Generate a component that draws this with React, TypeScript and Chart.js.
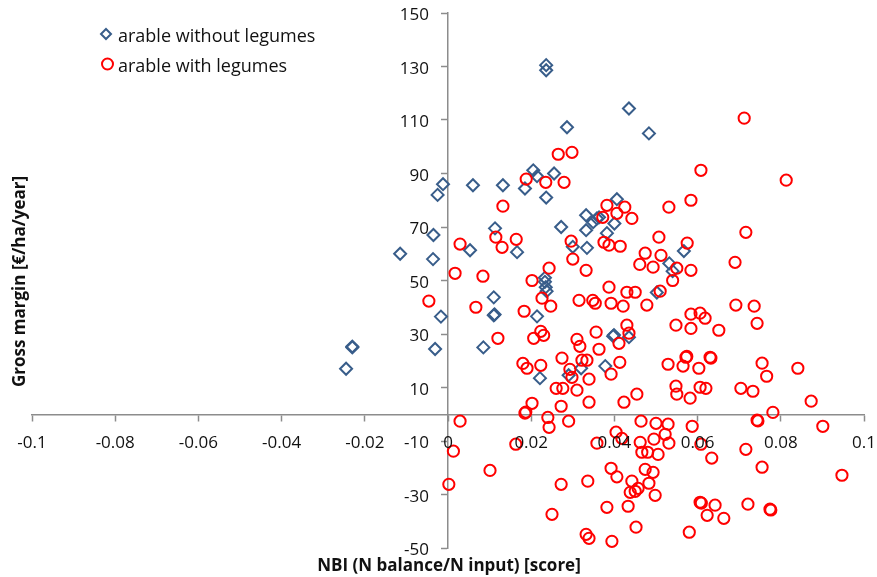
import React, { useEffect, useRef } from 'react';
import { Chart, registerables } from 'chart.js';

Chart.register(...registerables);

const xTickLabels = ['-0.1', '-0.08', '-0.06', '-0.04', '-0.02', '0', '0.02', '0.04', '0.06', '0.08', '0.1'];
const yTickLabels = ['-50', '-30', '-10', '10', '30', '50', '70', '90', '110', '130', '150'];
const seriesNames = ['arable without legumes', 'arable with legumes'];
const xTitle = 'NBI (N balance/N input) [score]';
const yTitle = 'Gross margin [€/ha/year]';

// [NBI score, gross margin]
const withoutLegumes: [number, number][] = [
  [-0.0245, 17], [-0.023, 25], [-0.023, 25.3], [-0.0115, 60], [-0.0036, 58], [-0.0035, 67],
  [-0.0025, 82], [-0.0012, 86], [-0.0017, 36.5], [-0.0031, 24.4], [0.006, 85.6], [0.0132, 85.6],
  [0.0185, 84.4], [0.0205, 91.2], [0.0214, 89], [0.0255, 90], [0.0236, 81], [0.0236, 130.5],
  [0.0236, 128.6], [0.0435, 114.3], [0.0483, 105], [0.0286, 107.3], [0.0272, 70], [0.0113, 69.5],
  [0.0053, 61.3], [0.0166, 60.6], [0.0332, 74.4], [0.0349, 71.8], [0.0358, 73.2], [0.0363, 73.6],
  [0.0332, 68.8], [0.0334, 62.2], [0.030, 62.6], [0.0406, 80.4], [0.040, 71.3], [0.0382, 67.7],
  [0.0567, 61], [0.0532, 56.4], [0.054, 53.5], [0.0502, 45.5], [0.0233, 51], [0.0233, 49.5],
  [0.0235, 47.5], [0.0237, 46], [0.011, 43.7], [0.011, 37], [0.0112, 37.3], [0.0085, 25],
  [0.0214, 36.6], [0.0221, 13.5], [0.029, 14.6], [0.032, 17.2], [0.0378, 18], [0.0397, 29.2],
  [0.0399, 29.6], [0.0435, 28.8],
];

const withLegumes: [number, number][] = [
  // upper part
  [0.0712, 110.7], [0.0265, 97.2], [0.0298, 97.9], [0.0608, 91.2], [0.0813, 87.5], [0.0188, 87.9],
  [0.0235, 86.7], [0.0279, 86.7], [0.0132, 77.8], [0.0382, 78.1], [0.0425, 77.4], [0.0372, 73.6],
  [0.0406, 75.1], [0.0442, 73.2], [0.0531, 77.4], [0.0584, 80], [0.0716, 68], [0.0507, 66.2],
  [0.0575, 64], [0.0029, 63.6], [0.0115, 66.2], [0.013, 62.4], [0.0164, 65.4], [0.0296, 64.7],
  [0.030, 58], [0.0332, 53.8], [0.0243, 54.6], [0.0375, 64.3], [0.0387, 63.2], [0.0414, 62.8],
  [0.0474, 60.2], [0.0512, 59.4], [0.0461, 56], [0.0493, 55], [0.055, 54.6], [0.0584, 53.8],
  [0.054, 50], [0.069, 56.8], [0.0017, 52.7], [0.0084, 51.6], [0.0202, 50], [0.0387, 47.5],
  [0.043, 45.6], [0.045, 45.6], [0.051, 46],
  // middle part
  [-0.0046, 42.3], [0.0067, 40], [0.012, 28.4], [0.0183, 38.5], [0.0226, 43.4], [0.0247, 40.4],
  [0.0223, 31], [0.023, 29.5], [0.0206, 28.4], [0.018, 19], [0.019, 17.2], [0.0223, 18.3],
  [0.0202, 4.1], [0.0185, 0.4], [0.0187, 0.8], [0.0274, 21], [0.0293, 16.8], [0.0298, 13.8],
  [0.031, 28], [0.0317, 25.4], [0.0322, 20.2], [0.0334, 20.2], [0.0339, 13.1], [0.0356, 30.7],
  [0.0363, 24.3], [0.0392, 15], [0.0413, 19.4], [0.0411, 26.5], [0.043, 33.3], [0.0435, 30.3],
  [0.0315, 42.6], [0.0348, 42.6], [0.0354, 41.5], [0.0392, 41.5], [0.0421, 40.4], [0.0478, 40.8],
  [0.026, 9.7], [0.0276, 9.7], [0.031, 9], [0.0272, 3], [0.0339, 4.5], [0.0423, 4.5],
  [0.0454, 7.5], [0.0548, 33.3], [0.0584, 37.4], [0.0606, 37.8], [0.0618, 35.9], [0.0584, 32.1],
  [0.0651, 31.4], [0.0692, 40.8], [0.0736, 40.4], [0.0743, 34], [0.0529, 18.7], [0.0572, 21.3],
  [0.0574, 21.6], [0.0565, 18], [0.0603, 17.2], [0.063, 21.3], [0.0632, 21], [0.0548, 10.5],
  [0.055, 7.5], [0.0582, 6], [0.0606, 10.1], [0.062, 9.7], [0.0704, 9.7], [0.0733, 8.6],
  [0.0755, 19.1], [0.0766, 14.2], [0.0841, 17.2], [0.0873, 4.9], [0.0781, 0.7],
  // lower part
  [0.0743, -2.2], [0.0745, -2.5], [0.0029, -2.6], [0.0013, -13.8], [0.0002, -26.2], [0.0101, -21],
  [0.0163, -11.2], [0.024, -1.2], [0.0243, -4.9], [0.029, -2.6], [0.0272, -26.2], [0.025, -37.4],
  [0.0336, -25], [0.0358, -10.8], [0.0404, -6.7], [0.0418, -9], [0.0464, -2.6], [0.05, -3.4],
  [0.0529, -3.7], [0.0522, -7.5], [0.0495, -9.3], [0.0462, -10.5], [0.0531, -10.8], [0.0466, -14.2],
  [0.048, -14.2], [0.0505, -15], [0.0392, -20.2], [0.0406, -23.4], [0.0474, -20.6], [0.0493, -21.7],
  [0.0442, -25], [0.0483, -25.8], [0.045, -28.8], [0.0438, -29.2], [0.0457, -27.7], [0.0498, -30.3],
  [0.0382, -34.8], [0.0433, -34.4], [0.0452, -42.2], [0.0332, -44.9], [0.0339, -46.4], [0.0394, -47.5],
  [0.058, -44.1], [0.0587, -4.5], [0.0608, -11.2], [0.0634, -16.4], [0.0606, -32.9], [0.0609, -33.2],
  [0.0642, -34], [0.0623, -37.8], [0.0663, -38.9], [0.0716, -13.1], [0.0755, -19.8], [0.0721, -33.6],
  [0.0774, -35.5], [0.0776, -35.8], [0.0901, -4.5], [0.0947, -22.8],
];

const BLUE = '#385D8A';
const RED = '#FF0000';
const AXIS = '#8C8C8C';
const FONT = '"Open Sans"';
const TEXT = '#111';

const decorations = {
  id: 'decorations',
  afterDraw(chart: any) {
    const { ctx, chartArea, scales } = chart;
    const xs = scales.x;
    const ys = scales.y;
    const axisX = xs.getPixelForValue(0);
    const axisY = ys.getPixelForValue(0);
    ctx.save();
    ctx.fillStyle = TEXT;

    // tick labels, placed through the scales
    ctx.font = `17px ${FONT}`;
    ctx.textBaseline = 'middle';
    ctx.textAlign = 'center';
    xs.ticks.forEach((t: any, i: number) => {
      ctx.fillText(xTickLabels[i], xs.getPixelForValue(t.value), axisY + 29);
    });
    ctx.textAlign = 'right';
    ys.ticks.forEach((t: any, i: number) => {
      ctx.fillText(yTickLabels[i], axisX - 19, ys.getPixelForValue(t.value) + 2.5);
    });

    // axis titles
    ctx.font = `bold 17px ${FONT}`;
    ctx.textAlign = 'center';
    ctx.textBaseline = 'alphabetic';
    ctx.fillText(xTitle, (chartArea.left + chartArea.right) / 2 + 1, chartArea.bottom + 23);
    ctx.save();
    ctx.translate(chartArea.left - 7.5, (chartArea.top + chartArea.bottom) / 2 + 1);
    ctx.rotate(-Math.PI / 2);
    ctx.fillText(yTitle, 0, 0);
    ctx.restore();

    // legend
    const lx = chartArea.left + 74;
    const ly1 = chartArea.top + 21;
    const ly2 = chartArea.top + 51;
    ctx.lineWidth = 2;
    ctx.strokeStyle = BLUE;
    ctx.beginPath();
    ctx.moveTo(lx, ly1 - 5);
    ctx.lineTo(lx + 5, ly1);
    ctx.lineTo(lx, ly1 + 5);
    ctx.lineTo(lx - 5, ly1);
    ctx.closePath();
    ctx.stroke();
    ctx.strokeStyle = RED;
    ctx.beginPath();
    ctx.arc(lx + 1.5, ly2, 5.5, 0, Math.PI * 2);
    ctx.stroke();
    ctx.font = `18px ${FONT}`;
    ctx.textAlign = 'left';
    ctx.fillText(seriesNames[0], lx + 12, ly1 + 8);
    ctx.fillText(seriesNames[1], lx + 12, ly2 + 8);
    ctx.restore();
  },
};

export default function App() {
  const canvasRef = useRef<HTMLCanvasElement | null>(null);

  useEffect(() => {
    const canvas = canvasRef.current;
    if (!canvas) return;
    const chart = new Chart(canvas, {
      type: 'scatter',
      data: {
        datasets: [
          {
            label: seriesNames[0],
            data: withoutLegumes.map(([x, y]) => ({ x, y })),
            pointStyle: 'rectRot',
            pointRadius: 6,
            pointBorderWidth: 2,
            borderColor: BLUE,
            backgroundColor: 'rgba(0,0,0,0)',
            pointBackgroundColor: 'rgba(0,0,0,0)',
            pointBorderColor: BLUE,
            order: 1,
          },
          {
            label: seriesNames[1],
            data: withLegumes.map(([x, y]) => ({ x, y })),
            pointStyle: 'circle',
            pointRadius: 5.6,
            pointBorderWidth: 2,
            borderColor: RED,
            backgroundColor: 'rgba(0,0,0,0)',
            pointBackgroundColor: 'rgba(0,0,0,0)',
            pointBorderColor: RED,
            order: 0,
          },
        ],
      },
      options: {
        responsive: false,
        animation: false,
        clip: false,
        layout: { padding: { left: 32, top: 13, right: 13, bottom: 29 } },
        plugins: {
          legend: { display: false },
          tooltip: { enabled: false },
          title: { display: false },
        },
        scales: {
          x: {
            type: 'linear',
            min: -0.1,
            max: 0.1,
            position: { y: 0 },
            afterFit: (s: any) => { s.height = 0; },
            ticks: { stepSize: 0.02, autoSkip: false, display: false, maxRotation: 0 },
            grid: {
              drawOnChartArea: false,
              drawTicks: true,
              tickLength: 6,
              tickWidth: 1.5,
              tickColor: AXIS,
            },
            border: { display: true, color: AXIS, width: 1.5 },
          },
          y: {
            type: 'linear',
            min: -50,
            max: 150,
            position: { x: 0 },
            afterFit: (s: any) => { s.width = 0; },
            ticks: { stepSize: 20, autoSkip: false, display: false },
            grid: {
              drawOnChartArea: false,
              drawTicks: true,
              tickLength: 6,
              tickWidth: 1.5,
              tickColor: AXIS,
            },
            border: { display: true, color: AXIS, width: 1.5 },
          },
        },
      },
      plugins: [decorations],
    } as any);
    return () => chart.destroy();
  }, []);

  return (
    <div style={{ position: 'absolute', left: 0, top: 0, width: 877, height: 577, background: '#fff' }}>
      <canvas ref={canvasRef} width={877} height={577} style={{ display: 'block' }} />
    </div>
  );
}
